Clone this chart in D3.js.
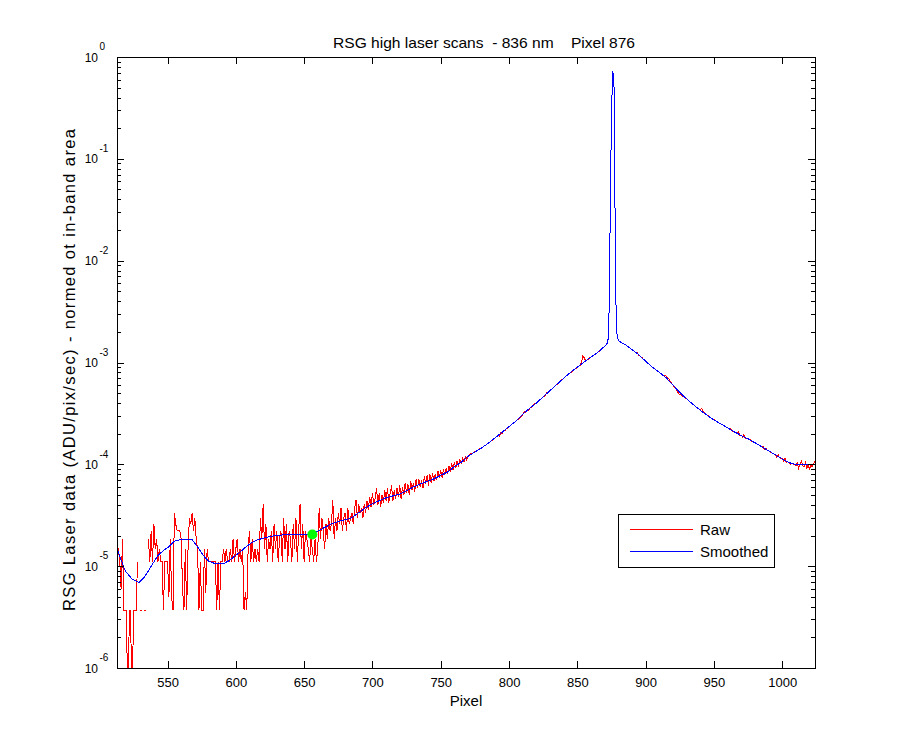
<!DOCTYPE html>
<html><head><meta charset="utf-8">
<script src="https://cdn.jsdelivr.net/npm/d3@7"></script>
<style>
body{margin:0;background:#fff}
text{font-family:"Liberation Sans",Arial,Helvetica,sans-serif;fill:#000}
</style>
</head><body>
<svg id="chart" width="900" height="750"></svg>
<script>
// ---------------- data (values in units of 1e-6 ADU/pix/sec, normed) ----------------
const UNIT = 1e-6;
const rawStartPixel = 513;
const rawMicro = [
 14.8,14.8,11.1,6,18.5,3.7,3.7,3.7,0.2,3.7,            // 513
 3.7,0.2,3.7,3.7,3.7,11.1,0,3.7,3.7,0,                 // 523
 3.7,3.7,0,18.5,11.1,22.2,11.1,25.9,14.8,18.5,         // 533
 11.1,14.8,11.1,11.1,3.7,11.1,11.1,11.1,5,18.5,        // 543
 5,3.7,33.3,25.9,22.2,22.2,22.2,18.5,6,3.7,            // 553
 14.8,3.7,14.8,29.6,25.9,33.3,22.2,29.6,18.5,14.8,     // 563
 3.7,11.1,3.7,3.7,14.8,5.5,14.8,11.1,11.1,11.1,        // 573
 11.1,11.1,11.1,3.7,11.1,3.7,11.1,11.1,14.8,11.1,      // 583
 14.8,11.1,11.1,14.8,11.1,18.5,11.1,14.8,18.5,11.1,    // 593
 14.8,11.1,14.8,3.7,5.6,3.7,14.8,22.2,11.1,18.5,       // 603
 11.1,14.8,11.1,14.8,11.1,29.6,18.5,40.7,14.8,25.9,    // 613
 11.1,18.5,14.8,22.2,11.1,25.9,14.8,22.2,11.1,18.5,    // 623
 22.2,11.1,29.6,14.8,25.9,11.1,22.2,18.5,11.1,25.9,    // 633
 14.8,29.6,11.1,22.2,40.7,14.8,25.9,11.1,22.2,18.5,    // 643
 14.8,11.1,18.5,14.8,11.1,18.5,11.1,14.8,37,18.5,      // 653
 29.6,22.2,14.8,25.9,18.5,29.6,22.2,25.9,44.4,18.5,    // 663
 29.6,22.2,33.3,25.9,37,22.2,29.6,33.3,22.2,37,        // 673
 25.9,29.6,33.3,25.9,37,44.4,29.6,40.7,33.3,37,        // 683
 29.6,40.7,33.3,44,36,48,38,52,40,46,                  // 693
 58,40,52,38,50,42,56,44,58,42,                        // 703
 52,62,44,56,46,58,48,62,46,60,                        // 713
 50,66,52,64,50,68,56,66,54,72,                        // 723
 58,72,60,70,58,76,64,78,62,80,                        // 733
 66,82,68,80,70,86,74,88,74,90,                        // 743
 78,92,80,96,84,104,88,106,92,108,                     // 753
 98,110,102,114,106,118,110,121,123,127,               // 763
 128,131,133,135,138,140,143,146,148,153,              // 773
 155,159,163,165,170,174,178,184,186,193,              // 783
 190,206,200,214,213,225,226,236,240,247,              // 793
 252,259,266,272,280,288,296,306,330,322,              // 803
 334,334,352,362,372,384,395,400,410,420,              // 813
 434,446,458,470,486,512,514,530,545,560,              // 823
 578,598,606,632,640,668,680,700,716,748,              // 833
 752,780,796,812,830,852,880,888,920,930,              // 843
 1000,1160,1120,1040,1060,1080,1110,1130,1155,1180,    // 853
 1205,1235,1260,1290,1330,1370,1400,1440,1490,1550,    // 863
 1850,22000,290000,730000,480000,5000,1900,1650,1600,1570, // 873
 1545,1520,1500,1465,1430,1400,1370,1340,1310,1290,    // 883
 1230,1240,1180,1150,1130,1090,1060,1030,1000,975,     // 893
 950,925,900,880,860,835,820,800,780,770,              // 903
 750,745,735,715,690,655,625,600,570,555,              // 913
 520,500,485,478,468,460,448,440,428,415,              // 923
 402,392,385,376,366,360,350,348,352,335,              // 933
 318,312,303,298,292,285,280,274,270,262,              // 943
 258,252,250,246,240,236,232,230,222,226,              // 953
 215,210,208,205,200,210,190,194,186,196,              // 963
 180,178,178,176,172,168,166,163,160,157,              // 973
 155,152,149,150,140,144,138,136,133,131,              // 983
 128,126,126,118,124,116,114,114,108,116,              // 993
 104,106,103,100,103,100,99,96,104,92,                 // 1003
 101,108,97,94,104,92,98,90,97,95,                     // 1013
 101,107                                               // 1023
];
const smoothPixel = [513,516,519,524,529,533,536,540,543,547,551,555,559,564,568,572,576,580,584,588,
 591,595,599,603,607,611,615,620,625,630,635,640,645,650,655,660,665,670,675,680,685,690,695,700,
 705,710,715,720,725,730,735,740,745,750,755,760,765,770,775,780,785,790,795,800,805,810,815,820,
 825,830,835,840,845,850,855,860,865,868,870,871,872,873,874,875,876,877,878,879,880,882,885,890,
 895,900,905,910,915,920,925,930,935,940,945,950,955,960,965,970,975,980,985,990,995,1000,1005,
 1010,1015,1020,1024];
const smoothMicro = [15,11.5,9,7.5,6.9,7.8,9,11,12.7,14.3,15.5,17.6,18.2,18.3,18.2,15.5,12.8,11.2,10.7,10.5,
 10.6,11.3,12.5,13.7,15.3,16.8,18,18.8,19.6,20,20.3,20.5,20.6,20.7,20.5,22,24,26,27.5,28.5,30,33.5,37.5,41,
 44,47,49,51,55,60,64,68,72,78,84,95,105,120,132,145,162,183,207,235,265,310,355,400,
 460,530,610,700,800,900,1010,1130,1260,1370,1440,1490,1550,1850,22000,290000,730000,480000,5000,1900,1650,1570,1500,1340,
 1190,1030,900,800,710,600,510,440,385,340,303,273,250,228,208,192,178,163,149,136,124,113,104,
 99.5,99,99,100];
const markerPixel = [656];
const markerMicro = [20.5];
const xTicks = [550,600,650,700,750,800,850,900,950,1000];
const yTickExponents = [0,-1,-2,-3,-4,-5,-6];
const legendLabels = ["Raw","Smoothed"];
const titleText = "RSG high laser scans  - 836 nm    Pixel 876";
const xLabelText = "Pixel";
const yLabelText = "RSG Laser data (ADU/pix/sec) - normed ot in-band area";

// ---------------- layout ----------------
const L = 117, R = 815, T = 57, B = 668;
const svg = d3.select("#chart");
const x = d3.scaleLinear().domain([513, 1024]).range([L, R]);
const y = d3.scaleLog().domain([1e-6, 1]).range([B, T]);

const rawData = rawMicro.map((v, i) => ({p: rawStartPixel + i, v: v * UNIT}));
const smoothData = smoothPixel.map((p, i) => ({p, v: smoothMicro[i] * UNIT}));

svg.append("rect").attr("width", 900).attr("height", 750).attr("fill", "#fff");

svg.append("defs").append("clipPath").attr("id", "plotclip")
  .append("rect").attr("x", L).attr("y", T).attr("width", R - L).attr("height", B - T);

const plot = svg.append("g").attr("clip-path", "url(#plotclip)");
const line = d3.line().defined(d => d.v > 0).x(d => x(d.p)).y(d => y(d.v));

plot.append("path").datum(rawData).attr("d", line)
  .attr("fill", "none").attr("stroke", "#ff0000").attr("stroke-width", 1)
  .attr("shape-rendering", "crispEdges");
plot.append("path").datum(smoothData).attr("d", line)
  .attr("fill", "none").attr("stroke", "#0000ff").attr("stroke-width", 1)
  .attr("shape-rendering", "crispEdges");
plot.selectAll("circle.mk").data(markerPixel).join("circle").attr("class", "mk")
  .attr("cx", d => x(d)).attr("cy", (d, i) => y(markerMicro[i] * UNIT)).attr("r", 5)
  .attr("fill", "#00ff00");

// ---------------- axes ----------------
const majors = yTickExponents.map(e => Math.pow(10, e));
const minors = [];
for (let e = -6; e < 0; e++) for (let m = 2; m <= 9; m++) minors.push(m * Math.pow(10, e));

function styleAxis(g) {
  g.select(".domain").remove();
  g.selectAll(".tick line").attr("stroke", "#000").attr("shape-rendering", "crispEdges");
}
svg.append("g").attr("transform", `translate(0,${B})`)
  .call(d3.axisBottom(x).tickValues(xTicks).tickSize(-7).tickPadding(10).tickFormat(d3.format("d")))
  .call(styleAxis)
  .call(g => g.selectAll("text").attr("font-size", 13).attr("font-family", "Liberation Sans, Arial, sans-serif"));
svg.append("g").attr("transform", `translate(0,${T})`)
  .call(d3.axisTop(x).tickValues(xTicks).tickSize(-7).tickFormat(""))
  .call(styleAxis);
svg.append("g").attr("transform", `translate(${L},0)`)
  .call(d3.axisLeft(y).tickValues(majors).tickSize(-7).tickFormat(""))
  .call(styleAxis);
svg.append("g").attr("transform", `translate(${L},0)`)
  .call(d3.axisLeft(y).tickValues(minors).tickSize(-4).tickFormat(""))
  .call(styleAxis);
svg.append("g").attr("transform", `translate(${R},0)`)
  .call(d3.axisRight(y).tickValues(majors).tickSize(-7).tickFormat(""))
  .call(styleAxis);
svg.append("g").attr("transform", `translate(${R},0)`)
  .call(d3.axisRight(y).tickValues(minors).tickSize(-4).tickFormat(""))
  .call(styleAxis);

svg.append("rect").attr("x", L).attr("y", T).attr("width", R - L).attr("height", B - T)
  .attr("fill", "none").attr("stroke", "#000").attr("stroke-width", 1)
  .attr("shape-rendering", "crispEdges");

// y tick labels 10^e
const yl = svg.append("g");
yTickExponents.forEach(e => {
  const yy = y(Math.pow(10, e));
  yl.append("text").attr("x", 98).attr("y", yy + 4.5).attr("text-anchor", "end")
    .attr("font-size", 12).text("10");
  yl.append("text").attr("x", 99.5).attr("y", yy - 6.7).attr("text-anchor", "start")
    .attr("font-size", 10).text(String(e));
});

// title & labels
svg.append("text").attr("x", 484).attr("y", 48).attr("text-anchor", "middle")
  .attr("font-size", 15).attr("xml:space", "preserve").style("white-space", "pre")
  .attr("textLength", 302).attr("lengthAdjust", "spacingAndGlyphs").text(titleText);
svg.append("text").attr("x", (L + R) / 2).attr("y", 706).attr("text-anchor", "middle")
  .attr("font-size", 15).text(xLabelText);
svg.append("text").attr("transform", "translate(75,370) rotate(-90)").attr("text-anchor", "middle")
  .attr("font-size", 16.5).attr("textLength", 482).attr("lengthAdjust", "spacing")
  .text(yLabelText);

// legend
const lg = svg.append("g");
lg.append("rect").attr("x", 618.5).attr("y", 514.5).attr("width", 156).attr("height", 53)
  .attr("fill", "#fff").attr("stroke", "#000").attr("shape-rendering", "crispEdges");
const legendColors = ["#ff0000", "#0000ff"];
legendLabels.forEach((lab, i) => {
  const ly = 529.5 + i * 22.3;
  lg.append("line").attr("x1", 630).attr("x2", 693).attr("y1", ly).attr("y2", ly)
    .attr("stroke", legendColors[i]).attr("shape-rendering", "crispEdges");
  lg.append("text").attr("x", 700).attr("y", ly + 5.2).attr("font-size", 15).text(lab);
});
</script>
</body></html>
